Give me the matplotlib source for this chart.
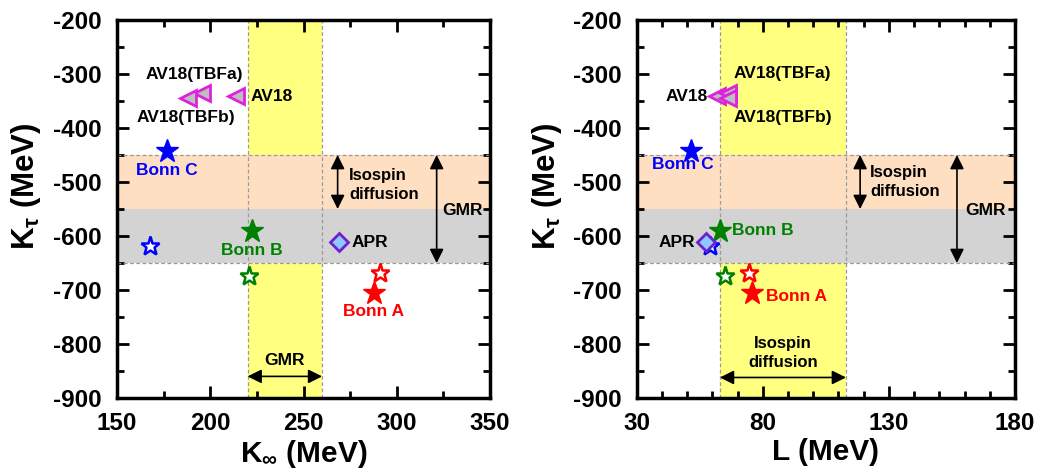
import matplotlib
matplotlib.use("Agg")
import matplotlib.pyplot as plt
from matplotlib.ticker import MultipleLocator

plt.rcParams['font.family'] = ['Liberation Sans', 'DejaVu Sans']
plt.rcParams['font.weight'] = 'bold'
plt.rcParams['axes.labelweight'] = 'bold'
plt.rcParams['axes.unicode_minus'] = False
plt.rcParams['mathtext.fontset'] = 'custom'
plt.rcParams['mathtext.rm'] = 'Liberation Sans:bold'
plt.rcParams['mathtext.bf'] = 'Liberation Sans:bold'
plt.rcParams['mathtext.it'] = 'Liberation Sans:bold'
plt.rcParams['mathtext.default'] = 'bf'

# Bonn potentials: filled stars and open stars
bonn_names = ['Bonn A', 'Bonn B', 'Bonn C']
bonn_colors = ['red', 'green', 'blue']
bonn_kinf = [287.8, 222.5, 176.6]
bonn_L = [75.6, 63.0, 51.5]
bonn_ktau = [-706, -590, -442]
bonn_open_kinf = [291.0, 220.9, 167.7]
bonn_open_L = [74.4, 65.0, 59.1]
bonn_open_ktau = [-669, -674, -618]

# AV18 family (triangles)
av18_names = ['AV18', 'AV18(TBFa)', 'AV18(TBFb)']
av18_kinf = [213.6, 195.4, 188.0]
av18_L = [62.0, 66.3, 66.3]
av18_ktau = [-341, -335, -345]

# APR (diamond)
apr_kinf = 269.2
apr_L = 57.5
apr_ktau = -612

# constraints
gmr_kinf = (220, 260)
iso_L = (63, 113)
iso_ktau = (-550, -450)
gmr_ktau = (-650, -450)

# ticks
ktau_ticks = [-900, -800, -700, -600, -500, -400, -300, -200]
kinf_ticks = [150, 200, 250, 300, 350]
L_ticks = [30, 80, 130, 180]

# label offsets (points) for each panel
left_bonn_off = [((0, -13), 'center'), ((0, -14), 'center'), ((0, -14), 'center')]
right_bonn_off = [((10, -2), 'left'), ((9, 0), 'left'), ((-6, -10), 'center')]
left_av_off = [((11, 0), 'left'), ((-5, 13), 'center'), ((-1.5, -14), 'center')]
right_av_off = [((-7, 0), 'right'), ((4, 14), 'left'), ((4, -14), 'left')]

fig = plt.figure(figsize=(10.41, 4.70), dpi=100)
ax1 = fig.add_axes([0.1124, 0.1532, 0.3583, 0.8042])
ax2 = fig.add_axes([0.6116, 0.1532, 0.3634, 0.8042])

peach = '#FFDFC2'
grey = '#D3D3D3'
yellow = '#FFFF80'
dash = dict(color='#9A9A9A', lw=0.9, ls=(0, (3, 2)), zorder=2)
arrow = dict(arrowstyle='<|-|>', color='black', lw=1.2, mutation_scale=21,
             shrinkA=0, shrinkB=0)


def draw_panel(ax, x_bonn, x_open, x_av, x_apr, band, xlim, xticks, xmin,
               bonn_off, av_off, apr_off, ylab_x):
    ax.axvspan(band[0], band[1], color=yellow, lw=0, zorder=0)
    ax.axhspan(iso_ktau[0], iso_ktau[1], color=peach, lw=0, zorder=1)
    ax.axhspan(gmr_ktau[0], iso_ktau[0], color=grey, lw=0, zorder=1)
    for xv in band:
        ax.axvline(xv, **dash)
    for yv in gmr_ktau:
        ax.axhline(yv, **dash)

    for i in range(3):
        ax.plot(x_bonn[i], bonn_ktau[i], marker='*', ms=17, color=bonn_colors[i],
                ls='none', zorder=5)
        ax.plot(x_open[i], bonn_open_ktau[i], marker='*', ms=14, mfc='white',
                mec=bonn_colors[i], mew=1.8, ls='none', zorder=5)
        (dx, dy), ha = bonn_off[i]
        ax.annotate(bonn_names[i], (x_bonn[i], bonn_ktau[i]), xytext=(dx, dy),
                    textcoords='offset points', ha=ha, va='center',
                    color=bonn_colors[i], fontsize=12.5, zorder=6)
    for i in range(3):
        ax.plot(x_av[i], av18_ktau[i], marker='<', ms=11, mfc='#BEBEBE',
                mec='#DD22DD', mew=2, ls='none', zorder=5)
        (dx, dy), ha = av_off[i]
        ax.annotate(av18_names[i], (x_av[i], av18_ktau[i]), xytext=(dx, dy),
                    textcoords='offset points', ha=ha, va='center',
                    fontsize=12.5, zorder=6)
    ax.plot(x_apr, apr_ktau, marker='D', ms=9, mfc='#8EC8FF', mec='#6A22CC',
            mew=2, ls='none', zorder=6)
    (dx, dy), ha = apr_off
    ax.annotate('APR', (x_apr, apr_ktau), xytext=(dx, dy),
                textcoords='offset points', ha=ha, va='center', fontsize=12.5)

    ax.set_xticks(xticks, [str(t) for t in xticks], fontsize=17.5, fontweight='bold')
    ax.set_yticks(ktau_ticks, [str(t) for t in ktau_ticks], fontsize=17.5, fontweight='bold')
    ax.xaxis.set_minor_locator(MultipleLocator(xmin))
    ax.yaxis.set_minor_locator(MultipleLocator(50))
    ax.set_xlim(*xlim)
    ax.set_ylim(-900, -200)
    ax.tick_params(which='both', direction='in', top=True, right=True, width=2)
    ax.tick_params(axis='x', pad=10)
    ax.tick_params(axis='y', pad=11)
    ax.tick_params(which='major', length=8.5)
    ax.tick_params(which='minor', length=5)
    for s in ax.spines.values():
        s.set_linewidth(2.5)
        s.set_zorder(10)
    ax.set_ylabel('K$_τ$ (MeV)', fontsize=22.5)
    ax.yaxis.set_label_coords(ylab_x, 0.56)
    ax.xaxis.set_label_coords(0.5, -0.105)


draw_panel(ax1, bonn_kinf, bonn_open_kinf, av18_kinf, apr_kinf, gmr_kinf,
           (150, 350), kinf_ticks, 25, left_bonn_off, left_av_off, ((9, 0), 'left'), -0.198)
draw_panel(ax2, bonn_L, bonn_open_L, av18_L, apr_L, iso_L,
           (30, 180), L_ticks, 10, right_bonn_off, right_av_off, ((-8, 0), 'right'), -0.193)

ax1.set_xlabel('K$_∞$ (MeV)', fontsize=21.5)
ax2.set_xlabel('L (MeV)', fontsize=21.5)

# vertical arrows (Kτ constraints)
ax1.annotate('', xy=(268.3, iso_ktau[0]), xytext=(268.3, iso_ktau[1]), arrowprops=arrow, zorder=4)
ax1.annotate('', xy=(321.4, gmr_ktau[0]), xytext=(321.4, gmr_ktau[1]), arrowprops=arrow, zorder=4)
ax1.text(274.5, -505, 'Isospin\ndiffusion', fontsize=12, ha='left', va='center', linespacing=1.3)
ax1.text(335, -552, 'GMR', fontsize=12.5, ha='center', va='center')

ax2.annotate('', xy=(118.6, iso_ktau[0]), xytext=(118.6, iso_ktau[1]), arrowprops=arrow, zorder=4)
ax2.annotate('', xy=(157, gmr_ktau[0]), xytext=(157, gmr_ktau[1]), arrowprops=arrow, zorder=4)
ax2.text(122.5, -500, 'Isospin\ndiffusion', fontsize=12, ha='left', va='center', linespacing=1.3)
ax2.text(168.2, -552, 'GMR', fontsize=12.5, ha='center', va='center')

# horizontal arrows (x-axis constraints)
ax1.annotate('', xy=(gmr_kinf[0], -860), xytext=(gmr_kinf[1], -860), arrowprops=arrow, zorder=4)
ax1.text(sum(gmr_kinf) / 2, -830, 'GMR', fontsize=12.5, ha='center', va='center')
ax2.annotate('', xy=(iso_L[0], -862), xytext=(iso_L[1], -862), arrowprops=arrow, zorder=4)
ax2.text(sum(iso_L) / 2, -817, 'Isospin\ndiffusion', fontsize=12, ha='center', va='center', linespacing=1.3)

fig.savefig('out.png', dpi=100)
